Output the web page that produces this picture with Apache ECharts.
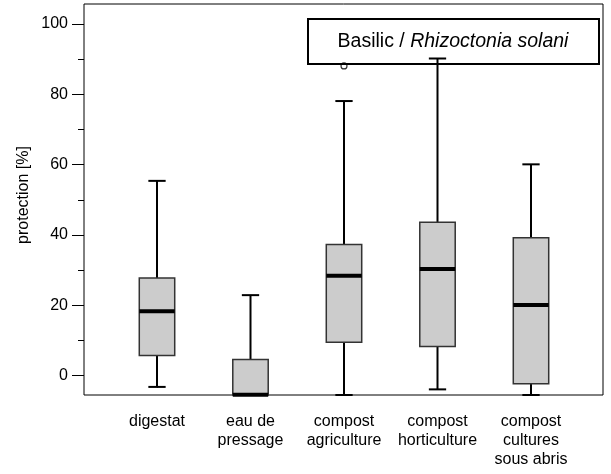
<!DOCTYPE html>
<html>
<head>
<meta charset="utf-8">
<script src="https://cdn.jsdelivr.net/npm/echarts@6/dist/echarts.min.js"></script>
<style>html,body{margin:0;padding:0;background:#fff}#c{width:611px;height:474px}</style>
</head>
<body>
<div id="c"></div>
<script>
// ---- data ----
const categories = ['digestat', 'eau de\npressage', 'compost\nagriculture', 'compost\nhorticulture', 'compost\ncultures\nsous abris'];
const whiskerLow  = [-3.2, -5.5, -5.5,  -3.9, -5.5];
const quartile1   = [ 5.7, -5.5,  9.5,   8.3, -2.3];
const medians     = [18.3, -5.4, 28.4,  30.3, 20.1];
const quartile3   = [27.8,  4.6, 37.3,  43.6, 39.2];
const whiskerHigh = [55.4, 22.9, 78.1,  90.2, 60.1];
const outliers    = [[2, 88.1]];
const yTicks      = [0, 20, 40, 60, 80, 100];
const yMinorTicks = [10, 30, 50, 70, 90];
const yMin = -5.5, yMax = 105.7;
const yTitle = 'protection [%]';
const titleA = 'Basilic / ', titleB = 'Rhizoctonia solani';

const boxData = categories.map((c, i) => [i, whiskerLow[i], quartile1[i], medians[i], quartile3[i], whiskerHigh[i]]);

const FONT = 'Liberation Sans, Arial, sans-serif';
const chart = echarts.init(document.getElementById('c'), null, {renderer: 'canvas'});

const option = {
  backgroundColor: '#fff',
  animation: false,
  grid: [
    {left: 84, top: 4, width: 519, height: 391, show: true, borderColor: '#000', borderWidth: 1, backgroundColor: 'transparent'},
    {left: 110.25, top: 4, width: 467.5, height: 391}
  ],
  xAxis: [
    {gridIndex: 0, type: 'value', show: false, min: 0, max: 1},
    {gridIndex: 1, type: 'category', data: categories,
     axisLine: {show: false},
     axisTick: {show: true, alignWithLabel: true, length: 12, lineStyle: {color: '#000', width: 1}},
     axisLabel: {color: '#000', fontFamily: FONT, fontSize: 16, lineHeight: 19, margin: 17, interval: 0},
     splitLine: {show: false}}
  ],
  yAxis: [
    {gridIndex: 0, type: 'value', position: 'left', min: yMin, max: yMax,
     axisLine: {show: false},
     axisTick: {show: true, length: 12, customValues: yTicks, lineStyle: {color: '#000', width: 1}},
     axisLabel: {customValues: yTicks, color: '#000', fontFamily: FONT, fontSize: 16, margin: 16},
     splitLine: {show: false}},
    {gridIndex: 0, type: 'value', position: 'left', offset: 0, min: yMin, max: yMax,
     axisLine: {show: false},
     axisTick: {show: true, length: 6, customValues: yMinorTicks, lineStyle: {color: '#000', width: 1}},
     axisLabel: {show: false},
     splitLine: {show: false}},
    {gridIndex: 1, type: 'value', min: yMin, max: yMax, show: false}
  ],
  graphic: [
    {type: 'text', x: 24, y: 195, rotation: Math.PI / 2,
     style: {text: yTitle, fill: '#000', font: '16px ' + FONT, align: 'center', verticalAlign: 'middle'}},
    {type: 'rect', z: 0, zlevel: 0, shape: {x: 308, y: 19, width: 291, height: 45},
     style: {fill: '#fff', stroke: '#000', lineWidth: 2}},
    {type: 'text', z: 1, x: 453, y: 41.5,
     style: {text: '{n|' + titleA + '}{i|' + titleB + '}', align: 'center', verticalAlign: 'middle',
       rich: {
         n: {fontSize: 19.5, fontFamily: FONT, fill: '#000', color: '#000'},
         i: {fontSize: 19.5, fontFamily: FONT, fontStyle: 'italic', fill: '#000', color: '#000'}
       }}}
  ],
  series: [
    {type: 'custom', xAxisIndex: 1, yAxisIndex: 2, data: boxData, clip: false, z: 10,
     renderItem: function (params, api) {
       const x = api.value(0);
       const lo = api.coord([x, api.value(1)]);
       const q1 = api.coord([x, api.value(2)]);
       const md = api.coord([x, api.value(3)]);
       const q3 = api.coord([x, api.value(4)]);
       const hi = api.coord([x, api.value(5)]);
       const band = api.size([1, 0])[0];
       const bw = band * 0.379, cw = band * 0.185;
       const cx = lo[0];
       const ls = {stroke: '#000', lineWidth: 2};
       return {type: 'group', children: [
         {type: 'line', shape: {x1: cx, y1: lo[1], x2: cx, y2: q1[1]}, style: ls},
         {type: 'line', shape: {x1: cx, y1: q3[1], x2: cx, y2: hi[1]}, style: ls},
         {type: 'line', shape: {x1: cx - cw / 2, y1: lo[1], x2: cx + cw / 2, y2: lo[1]}, style: ls},
         {type: 'line', shape: {x1: cx - cw / 2, y1: hi[1], x2: cx + cw / 2, y2: hi[1]}, style: ls},
         {type: 'rect', shape: {x: cx - bw / 2, y: q3[1], width: bw, height: q1[1] - q3[1]},
          style: {fill: '#cccccc', stroke: '#333', lineWidth: 1.5}},
         {type: 'line', shape: {x1: cx - bw / 2, y1: md[1], x2: cx + bw / 2, y2: md[1]},
          style: {stroke: '#000', lineWidth: 4}}
       ]};
     }},
    {type: 'scatter', xAxisIndex: 1, yAxisIndex: 2, data: outliers, symbol: 'circle', symbolSize: 6,
     itemStyle: {color: 'rgba(255,255,255,0)', borderColor: '#000', borderWidth: 1.2}, z: 11}
  ]
};
chart.setOption(option);
</script>
</body>
</html>
